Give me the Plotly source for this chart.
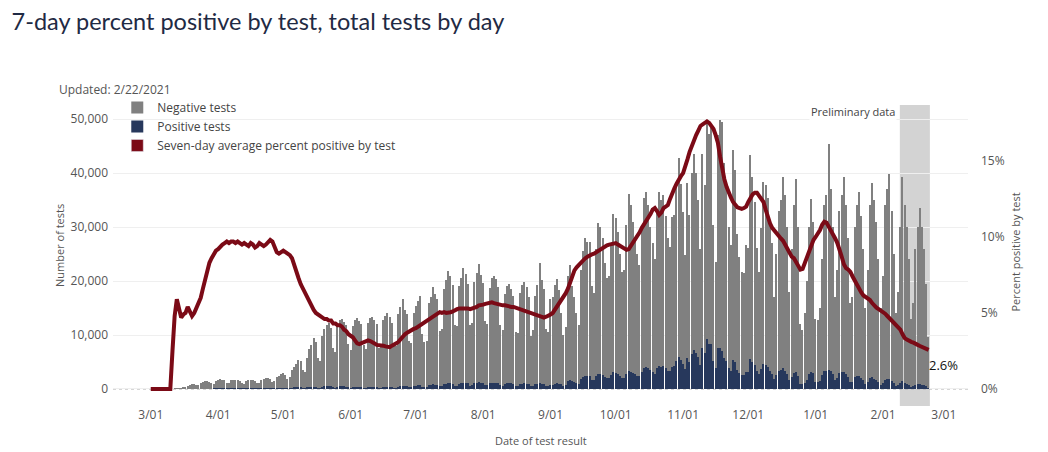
import pandas as pd
import plotly.graph_objects as go

# daily values, one row per week (Sun..Sat), first day 2020-03-01
# total tests per day = height of the stacked bar
total_tests = [
    0, 0, 0, 0, 0, 0, 0,
    0, 0, 0, 0, 40, 60, 90,
    120, 250, 400, 600, 750, 900, 1000,
    800, 700, 1100, 1300, 1400, 1500, 1350,
    1050, 1000, 1500, 1700, 1800, 1750, 1650,
    1200, 1100, 1600, 1750, 1700, 1650, 1500,
    1150, 1000, 1500, 1650, 1700, 1600, 1450,
    1100, 1100, 1700, 1900, 2000, 1950, 1800,
    1300, 1400, 2200, 2500, 2700, 2900, 2600,
    1900, 2200, 3500, 4100, 4600, 5400, 5200,
    3600, 3200, 5800, 7400, 8200, 9400, 8700,
    5800, 5200, 9800, 11200, 11800, 12200, 11300,
    7600, 6800, 11600, 12700, 13000, 12400, 11900,
    8300, 7200, 11700, 12800, 13100, 12600, 12000,
    8200, 7400, 12200, 13100, 13300, 12700, 12100,
    7600, 7900, 12800, 13600, 14000, 13300, 12200,
    8600, 8000, 13800, 15200, 16700, 14600, 13900,
    8800, 8500, 14100, 15400, 16300, 17200, 10200,
    8700, 8900, 15900, 17100, 18900, 17600, 16600,
    10800, 11200, 18500, 20100, 21800, 21000, 19200,
    11800, 11600, 19000, 20600, 22500, 21300, 19400,
    11800, 12300, 19800, 21500, 23100, 21200, 19700,
    12600, 12000, 18700, 20500, 21000, 20300, 18800,
    11800, 10900, 17600, 19000, 19500, 18600, 17300,
    10600, 10300, 17800, 19300, 19900, 18800, 17000,
    9800, 10900, 17200, 19200, 23300, 20200, 18600,
    11200, 10500, 16700, 17000, 19300, 20300, 18400,
    14000, 10000, 11500, 21000, 23000, 19000, 17000,
    14000, 11800, 22000, 25500, 27900, 27200, 27200,
    19000, 17700, 26000, 30700, 30000, 28000, 23300,
    20500, 21000, 27000, 32500, 31600, 29000, 25000,
    21700, 22000, 30400, 36200, 34000, 31000, 28000,
    25000, 23000, 30000, 35300, 36500, 34000, 30000,
    27000, 24000, 33000, 36500, 35000, 36000, 32000,
    28000, 26300, 31900, 32200, 38100, 42700, 38000,
    32800, 24800, 38200, 32200, 40000, 43600, 40000,
    35000, 26000, 43600, 37800, 49200, 47300, 48300,
    30400, 23600, 47000, 49800, 49500, 41800, 38400,
    30000, 26700, 44300, 40600, 28800, 24500, 21700,
    21500, 26700, 26100, 43300, 39300, 34700, 26100,
    21600, 29800, 38400, 37800, 35300, 31300, 27000,
    17000, 25000, 33000, 35000, 39200, 36000, 30000,
    18000, 26000, 34000, 38900, 30000, 12000, 11000,
    14000, 20000, 30000, 35200, 31000, 13000, 12800,
    15000, 24000, 34000, 36000, 45400, 37000, 30000,
    17000, 22000, 33000, 36000, 39200, 34000, 28000,
    16000, 17000, 30000, 34000, 36500, 32000, 26000,
    15000, 22000, 34000, 38100, 35000, 31000, 24000,
    15000, 21000, 34000, 37000, 39800, 33000, 25000,
    14000, 18000, 30000, 39200, 34000, 30000, 24000,
    13000, 16000, 26000, 30000, 33600, 30000, 25900,
    19400, 9700,
]

pos_tests = [
    0, 0, 0, 0, 0, 0, 0,
    0, 0, 0, 0, 5, 8, 10,
    12, 20, 25, 35, 40, 45, 55,
    40, 40, 60, 75, 80, 90, 80,
    60, 100, 150, 170, 180, 175, 160,
    120, 110, 160, 180, 170, 165, 150,
    115, 100, 150, 165, 170, 160, 145,
    110, 110, 170, 190, 200, 195, 180,
    130, 130, 200, 230, 240, 250, 220,
    160, 160, 260, 300, 330, 350, 320,
    220, 180, 300, 360, 380, 400, 360,
    240, 230, 430, 480, 500, 510, 470,
    320, 270, 460, 500, 510, 480, 460,
    320, 230, 380, 400, 400, 380, 350,
    240, 220, 370, 390, 390, 380, 360,
    220, 220, 360, 380, 390, 370, 340,
    240, 260, 450, 500, 560, 500, 480,
    310, 330, 560, 620, 660, 700, 430,
    360, 400, 720, 780, 860, 810, 770,
    500, 560, 920, 1000, 1090, 1060, 970,
    600, 610, 1000, 1090, 1190, 1130, 1030,
    630, 660, 1070, 1170, 1260, 1170, 1090,
    700, 690, 1060, 1170, 1190, 1150, 1070,
    670, 600, 970, 1050, 1070, 1020, 940,
    580, 560, 940, 1010, 1030, 970, 880,
    510, 540, 860, 960, 1150, 1000, 910,
    540, 500, 790, 820, 940, 1020, 960,
    840, 620, 750, 1390, 1610, 1430, 1330,
    1120, 960, 1830, 2170, 2370, 2340, 2390,
    1690, 1580, 2340, 2790, 2760, 2600, 2190,
    1950, 2000, 2580, 3120, 3030, 2760, 2350,
    2020, 2020, 2780, 3330, 3200, 2980, 2740,
    2500, 2370, 3180, 3810, 4020, 3810, 3450,
    3190, 2860, 3860, 4180, 4060, 4280, 3840,
    3390, 3290, 4120, 4250, 5140, 5890, 5320,
    4660, 3620, 5770, 5020, 6400, 7150, 6680,
    5950, 4500, 7590, 6610, 9200, 8280, 8360,
    5200, 3940, 7610, 7620, 7130, 5770, 5110,
    3870, 3360, 5450, 4910, 3440, 2920, 2570,
    2560, 3200, 3210, 5540, 5030, 4480, 3370,
    2740, 3730, 4720, 4460, 3990, 3410, 2860,
    1770, 2550, 3300, 3470, 3820, 3420, 2760,
    1600, 2260, 2920, 3230, 2400, 940, 870,
    1160, 1740, 2730, 3200, 3000, 1300, 1310,
    1570, 2590, 3300, 3400, 3600, 3300, 2700,
    1680, 2110, 3040, 3130, 3210, 2700, 2200,
    1230, 1260, 2130, 2350, 2410, 2030, 1600,
    910, 1310, 1990, 2150, 1910, 1660, 1260,
    770, 1070, 1680, 1780, 1850, 1490, 1090,
    590, 740, 1170, 1410, 1140, 980, 760,
    400, 490, 770, 870, 950, 820, 700,
    510, 250,
]

pct_7day = [
    0, 0, 0, 0, 0, 0, 0,
    0, 0, 0, 2.5, 4.8, 5.9, 5.4,
    4.7, 4.9, 5.0, 5.4, 5.1, 4.8, 5.0,
    5.3, 5.6, 6.0, 6.6, 7.2, 7.8, 8.3,
    8.6, 8.9, 9.1, 9.2, 9.4, 9.5, 9.6,
    9.7, 9.6, 9.7, 9.7, 9.6, 9.7, 9.6,
    9.5, 9.6, 9.5, 9.4, 9.6, 9.5, 9.3,
    9.4, 9.6, 9.5, 9.4, 9.5, 9.7, 9.8,
    9.7, 9.4, 9.0, 8.9, 9.0, 9.1, 9.0,
    8.9, 8.8, 8.6, 8.1, 7.7, 7.3, 6.9,
    6.6, 6.3, 6.0, 5.7, 5.4, 5.2, 5.0,
    4.9, 4.8, 4.7, 4.6, 4.6, 4.5, 4.5,
    4.3, 4.3, 4.2, 4.2, 4.1, 3.9, 3.8,
    3.6, 3.5, 3.4, 3.2, 3.0, 2.95, 3.0,
    3.1, 3.1, 3.2, 3.15, 3.1, 3.0, 2.9,
    2.9, 2.9, 2.85, 2.8, 2.8, 2.75, 2.85,
    2.9, 3.0, 3.1, 3.3, 3.5, 3.6, 3.7,
    3.8, 3.9, 3.95, 4.0, 4.1, 4.2, 4.3,
    4.4, 4.5, 4.6, 4.7, 4.8, 4.9, 5.0,
    5.05, 5.0, 5.05, 5.0, 5.0, 5.05, 5.1,
    5.2, 5.25, 5.3, 5.3, 5.35, 5.3, 5.3,
    5.25, 5.3, 5.3, 5.4, 5.5, 5.5, 5.55,
    5.6, 5.65, 5.7, 5.7, 5.65, 5.6, 5.6,
    5.55, 5.5, 5.5, 5.45, 5.45, 5.4, 5.4,
    5.35, 5.3, 5.2, 5.15, 5.1, 5.1, 5.05,
    5.0, 4.95, 4.9, 4.8, 4.75, 4.7, 4.7,
    4.75, 4.8, 4.9, 5.0, 5.2, 5.4, 5.6,
    5.8, 6.0, 6.3, 6.6, 7.0, 7.5, 7.8,
    8.0, 8.15, 8.3, 8.5, 8.6, 8.7, 8.8,
    8.85, 8.9, 9.0, 9.1, 9.2, 9.3, 9.4,
    9.45, 9.5, 9.55, 9.6, 9.6, 9.5, 9.4,
    9.3, 9.2, 9.15, 9.2, 9.4, 9.6, 9.8,
    10.0, 10.3, 10.6, 10.8, 11.0, 11.2, 11.5,
    11.8, 11.9, 11.7, 11.45, 11.6, 11.9, 12.0,
    12.1, 12.5, 12.9, 13.2, 13.5, 13.8, 14.0,
    14.2, 14.6, 15.1, 15.6, 16.0, 16.4, 16.7,
    17.0, 17.3, 17.4, 17.5, 17.6, 17.5, 17.3,
    17.1, 16.7, 16.2, 15.3, 14.4, 13.8, 13.3,
    12.9, 12.6, 12.3, 12.1, 11.95, 11.9, 11.85,
    11.9, 12.0, 12.3, 12.6, 12.8, 12.9, 12.9,
    12.7, 12.5, 12.3, 11.8, 11.3, 10.9, 10.6,
    10.4, 10.2, 10.0, 9.9, 9.75, 9.5, 9.2,
    8.9, 8.7, 8.6, 8.3, 8.0, 7.85, 7.9,
    8.3, 8.7, 9.1, 9.5, 9.8, 10.0, 10.2,
    10.45, 10.8, 11.0, 10.95, 10.7, 10.5, 10.2,
    9.9, 9.6, 9.2, 8.7, 8.2, 7.95, 7.85,
    7.7, 7.4, 7.1, 6.9, 6.6, 6.35, 6.15,
    6.05, 5.95, 5.85, 5.65, 5.45, 5.35, 5.25,
    5.15, 5.08, 4.95, 4.8, 4.65, 4.5, 4.35,
    4.2, 4.1, 3.9, 3.6, 3.35, 3.25, 3.15,
    3.1, 3.05, 2.95, 2.9, 2.83, 2.75, 2.7,
    2.62, 2.57,
]

dates = pd.date_range("2020-03-01", periods=len(pct_7day), freq="D")
neg_tests = [t - p for t, p in zip(total_tests, pos_tests)]

prelim_start = "2021-02-08 18:00"
prelim_end = "2021-02-22 14:00"
updated = "2/22/2021"

NEG = "#808080"
POS = "#27385c"
LINE = "#7b0a16"
TXT = "#555555"
FONT = "Open Sans"

fig = go.Figure()

fig.add_trace(go.Bar(x=dates, y=pos_tests, name="Positive tests",
                     marker_color=POS, marker_line_width=0, legendrank=2))
fig.add_trace(go.Bar(x=dates, y=neg_tests, name="Negative tests",
                     marker_color=NEG, marker_line_width=0, legendrank=1))
fig.add_trace(go.Scatter(x=dates, y=pct_7day, yaxis="y2", mode="lines",
                         line=dict(color=LINE, width=4), showlegend=False,
                         name="Seven-day average percent positive by test"))
# legend entry as a square swatch like the original
fig.add_trace(go.Bar(x=[None], y=[None], yaxis="y2", marker_color=LINE,
                     name="Seven-day average percent positive by test", legendrank=3))

fig.update_layout(
    width=1048, height=452,
    margin=dict(l=113, r=80, t=105, b=46),
    paper_bgcolor="white", plot_bgcolor="white",
    barmode="stack", bargap=0.4,
    font=dict(family=FONT, size=12, color=TXT),
    title=dict(text="7-day percent positive by test, total tests by day",
               x=0.011, xanchor="left", y=0.951, yanchor="middle",
               font=dict(family="Lato", size=23.5, color="#1f2a44")),
    legend=dict(x=0.005, y=1.04, xanchor="left", yanchor="top",
                traceorder="normal", bgcolor="rgba(0,0,0,0)",
                font=dict(size=12, color="#444"), tracegroupgap=0),
    xaxis=dict(range=["2020-02-12 15:00", "2021-03-12 03:00"],
               tickformat="%-m/%d", dtick="M1", tick0="2020-03-01",
               showgrid=False, zeroline=False, ticks="",
               tickfont=dict(size=12, color=TXT)),
    yaxis=dict(range=[-3150, 52600], tickvals=[0, 10000, 20000, 30000, 40000, 50000],
               tickformat=",", showgrid=True, gridcolor="#efefef", zeroline=False,
               ticklabelstandoff=4, tickfont=dict(size=12, color=TXT)),
    yaxis2=dict(range=[-1.12, 18.68], overlaying="y", side="right",
                tickvals=[0, 5, 10, 15], ticktext=["0%", "5%", "10%", "15%"],
                showgrid=False, zeroline=False, ticklabelstandoff=12,
                tickfont=dict(size=12, color=TXT)),
    shapes=[
        dict(type="rect", xref="x", yref="paper", x0=prelim_start, x1=prelim_end,
             y0=0, y1=1, fillcolor="#d3d3d3", line_width=0, layer="below"),
        dict(type="line", xref="paper", yref="y", x0=0, x1=1, y0=0, y1=0,
             line=dict(color="#aaaaaa", width=1, dash="dot"), layer="below"),
    ],
    annotations=[
        dict(text="Updated: " + updated, xref="paper", yref="paper", x=-0.065, y=1.053,
             xanchor="left", yanchor="middle", showarrow=False,
             font=dict(size=12, color=TXT)),
        dict(text="Preliminary data", xref="x", yref="paper", x=prelim_start, y=0.977,
             xanchor="right", yanchor="middle", xshift=-3, showarrow=False,
             bgcolor="white", font=dict(size=11, color="#444")),
        dict(text=f"{pct_7day[-1]:.1f}%", xref="x", yref="y2", x=dates[-1], y=pct_7day[-1],
             xanchor="left", yanchor="top", xshift=-2, yshift=-4, showarrow=False,
             font=dict(size=13, color="#111")),
        dict(text="Number of tests", xref="paper", yref="paper", x=-0.062, y=0.535,
             xanchor="center", yanchor="middle", textangle=-90, showarrow=False,
             font=dict(size=11, color=TXT)),
        dict(text="Percent positive by test", xref="paper", yref="paper", x=1.055, y=0.51,
             xanchor="center", yanchor="middle", textangle=-90, showarrow=False,
             font=dict(size=11, color=TXT)),
        dict(text="Date of test result", xref="paper", yref="paper", x=0.5, y=-0.116,
             xanchor="center", yanchor="middle", showarrow=False,
             font=dict(size=11, color=TXT)),
    ],
)

# drop the page's default body margin so the figure sits at the window's corner
fig.write_html("out.html", config={"displayModeBar": False},
               post_script="document.body.style.margin = '0';")
